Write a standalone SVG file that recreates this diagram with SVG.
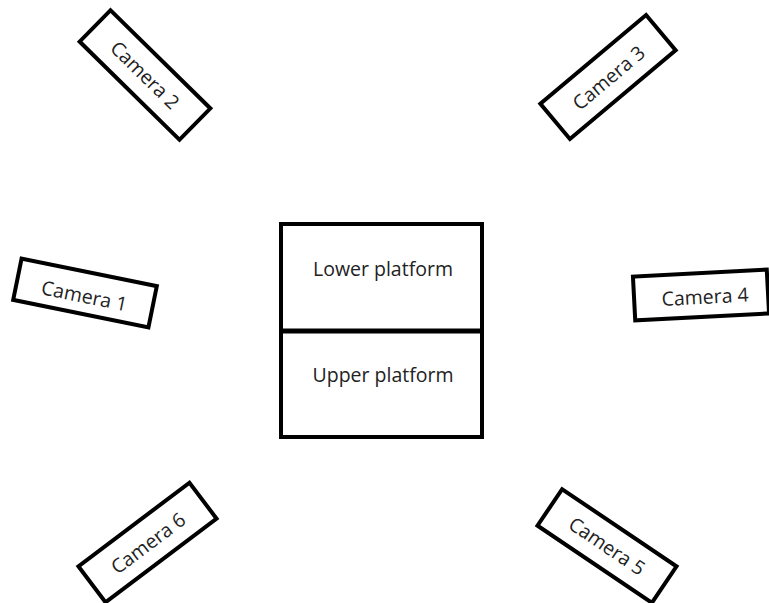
<svg xmlns="http://www.w3.org/2000/svg" width="769" height="603" viewBox="0 0 769 603">
<style>
.box{fill:#fff;stroke:#000;stroke-width:4}
.lbl{font-family:"Open Sans","Liberation Sans",sans-serif;font-size:19.5px;fill:#222;text-anchor:middle}
</style>
<rect width="769" height="603" fill="#fff"/>
<g id="connectors"></g>
<g id="platform">
<rect class="box" x="281" y="224" width="201" height="213"/>
<line x1="281" y1="331" x2="482" y2="331" stroke="#000" stroke-width="5"/>
<text class="lbl" x="383" y="276">Lower platform</text>
<text class="lbl" x="383" y="382">Upper platform</text>
</g>
<g id="camera1" transform="translate(85,293) rotate(11.5)">
<rect class="box" x="-69" y="-21" width="138" height="42"/>
<text class="lbl" x="0" y="10">Camera 1</text>
</g>
<g id="camera2" transform="translate(145,75) rotate(44.5)">
<rect class="box" x="-70" y="-22" width="140" height="44"/>
<text class="lbl" x="0" y="7">Camera 2</text>
</g>
<g id="camera3" transform="translate(608,77) rotate(-40)">
<rect class="box" x="-69" y="-23" width="138" height="46"/>
<text class="lbl" x="0" y="8">Camera 3</text>
</g>
<g id="camera4" transform="translate(701,295) rotate(-3)">
<rect class="box" x="-67" y="-22" width="134" height="44"/>
<text class="lbl" x="4" y="9">Camera 4</text>
</g>
<g id="camera5" transform="translate(607,546) rotate(34)">
<rect class="box" x="-69" y="-22" width="138" height="44"/>
<text class="lbl" x="0" y="7">Camera 5</text>
</g>
<g id="camera6" transform="translate(147.5,542.5) rotate(-37)">
<rect class="box" x="-69.5" y="-22.5" width="139" height="45"/>
<text class="lbl" x="0" y="8">Camera 6</text>
</g>
</svg>
